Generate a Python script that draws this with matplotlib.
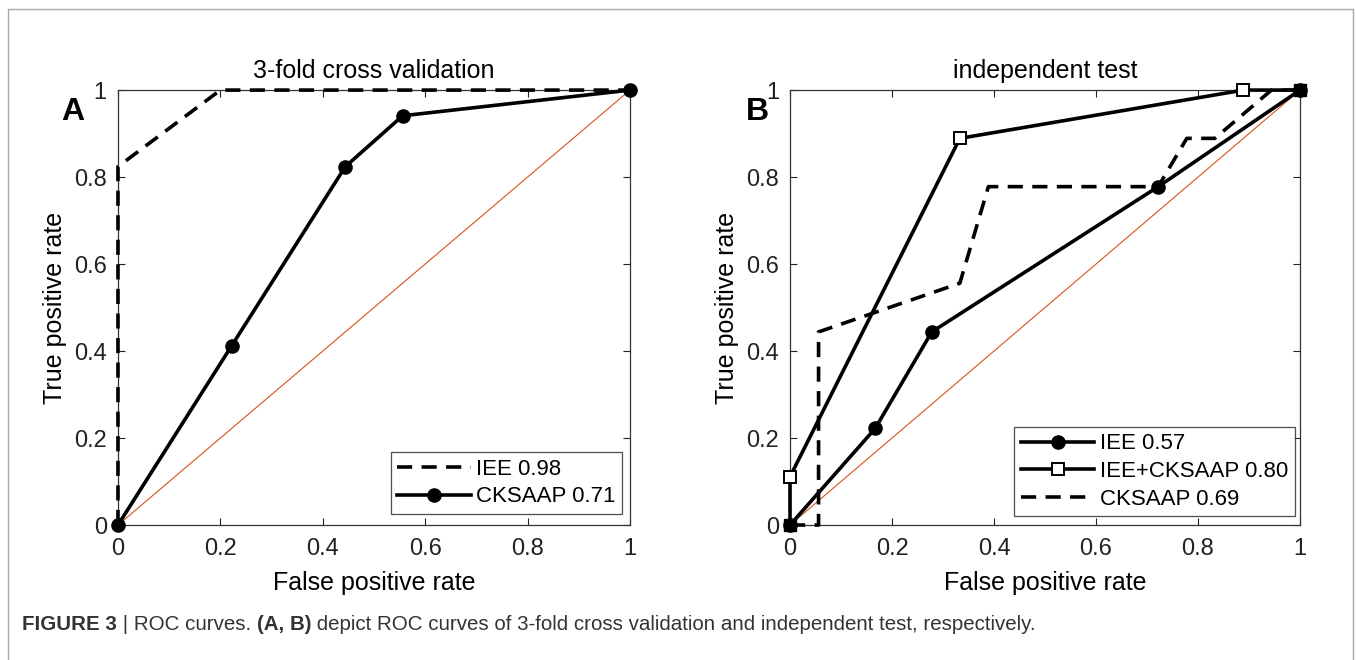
"""ROC curves — 3-fold cross validation (A) and independent test (B)"""

import matplotlib
matplotlib.use("Agg")
import matplotlib.pyplot as plt
from matplotlib.patches import Rectangle

plt.rcParams["font.family"] = ["Liberation Sans", "DejaVu Sans"]

# panel A: 3-fold cross validation
cv_iee_fpr = [0, 0, 0.2, 1]
cv_iee_tpr = [0, 0.824, 1, 1]
cv_ck_fpr = [0, 0.222, 0.444, 0.556, 1]
cv_ck_tpr = [0, 0.412, 0.824, 0.941, 1]

# panel B: independent test
it_iee_fpr = [0, 0.167, 0.278, 0.722, 1]
it_iee_tpr = [0, 0.222, 0.444, 0.778, 1]
it_comb_fpr = [0, 0, 0.333, 0.889, 1]
it_comb_tpr = [0, 0.111, 0.889, 1, 1]
it_ck_fpr = [0, 0.056, 0.056, 0.333, 0.389, 0.722, 0.778, 0.833, 0.944, 1]
it_ck_tpr = [0, 0, 0.444, 0.556, 0.778, 0.778, 0.889, 0.889, 1, 1]

legend_a = ["IEE 0.98", "CKSAAP 0.71"]
legend_b = ["IEE 0.57", "IEE+CKSAAP 0.80", "CKSAAP 0.69"]
ticks = [0, 0.2, 0.4, 0.6, 0.8, 1]
tick_labels = ["0", "0.2", "0.4", "0.6", "0.8", "1"]

LW = 2.6
DASH = (4.2, 2.6)
DIAG = "#D95319"


def style_axes(ax, title, letter, letter_x):
    ax.plot([0, 1], [0, 1], color=DIAG, lw=0.8, zorder=1)
    ax.set_xlim(0, 1)
    ax.set_ylim(0, 1)
    ax.set_xticks(ticks)
    ax.set_yticks(ticks)
    ax.set_xticklabels(tick_labels)
    ax.set_yticklabels(tick_labels)
    ax.tick_params(direction="in", length=5, width=0.8, labelsize=17,
                   top=True, right=True, colors="#222222")
    ax.tick_params(axis="x", pad=9)
    ax.tick_params(axis="y", pad=8)
    for s in ax.spines.values():
        s.set_linewidth(0.9)
        s.set_color("#333333")
    ax.set_xlabel("False positive rate", fontsize=18, labelpad=8)
    ax.set_ylabel("True positive rate", fontsize=18, labelpad=5)
    ax.set_title(title, fontsize=18, pad=9)
    ax.text(letter_x, 0.95, letter, transform=ax.transAxes, fontsize=23,
            fontweight="bold", ha="center", va="center")


fig = plt.figure(figsize=(13.56, 6.6), dpi=100)

# thin gray frame round the figure (bottom open)
fig.add_artist(Rectangle((8 / 1356, -0.05), 1345 / 1356, 1.05 - 9 / 660,
                         transform=fig.transFigure, fill=False,
                         edgecolor="#aaaaaa", lw=1.0))

ax_a = fig.add_axes([0.0870, 0.2045, 0.3776, 0.659])
ax_b = fig.add_axes([0.5826, 0.2045, 0.3761, 0.659])

# panel A
ax_a.plot(cv_iee_fpr, cv_iee_tpr, color="black", lw=LW, dashes=DASH,
          label=legend_a[0], zorder=3, clip_on=False)
ax_a.plot(cv_ck_fpr, cv_ck_tpr, color="black", lw=LW, marker="o", ms=9.5,
          label=legend_a[1], zorder=4, clip_on=False)
style_axes(ax_a, "3-fold cross validation", "A", -0.088)
leg = ax_a.legend(loc="lower right", fontsize=16, frameon=True, fancybox=False,
                  edgecolor="#222222", handlelength=3.3, borderpad=0.3,
                  labelspacing=0.3, handletextpad=0.25, borderaxespad=0,
                  bbox_to_anchor=(0.985, 0.025))
leg.get_frame().set_linewidth(0.9)

# panel B
ax_b.plot(it_iee_fpr, it_iee_tpr, color="black", lw=LW, marker="o", ms=9.5,
          label=legend_b[0], zorder=4, clip_on=False)
ax_b.plot(it_comb_fpr, it_comb_tpr, color="black", lw=LW, marker="s", ms=8,
          mfc="white", mec="black", mew=1.4, markevery=[1, 2, 3],
          label=legend_b[1], zorder=5, clip_on=False)
# end points of this curve show as solid squares
ax_b.plot(it_comb_fpr, it_comb_tpr, ls="none", marker="s", ms=9,
          color="black", markevery=[0, 4], zorder=6, clip_on=False)
ax_b.plot(it_ck_fpr, it_ck_tpr, color="black", lw=LW, dashes=DASH,
          label=legend_b[2], zorder=3, clip_on=False)
style_axes(ax_b, "independent test", "B", -0.063)
leg = ax_b.legend(loc="lower right", fontsize=16, frameon=True, fancybox=False,
                  edgecolor="#222222", handlelength=3.3, borderpad=0.3,
                  labelspacing=0.3, handletextpad=0.25, borderaxespad=0,
                  bbox_to_anchor=(0.99, 0.02))
leg.get_frame().set_linewidth(0.9)

# caption
cap_color = "#333333"
cap_y = 1 - 625 / 660
cap_size = 14.8
t1 = fig.text(22 / 1356, cap_y, "FIGURE 3", fontsize=cap_size,
              fontweight="bold", color=cap_color, va="center")
t2 = fig.text(0, cap_y, " | ROC curves. ", fontsize=cap_size, color=cap_color,
              va="center")
t3 = fig.text(0, cap_y, "(A, B)", fontsize=cap_size, fontweight="bold",
              color=cap_color, va="center")
t4 = fig.text(0, cap_y, " depict ROC curves of 3-fold cross validation and "
              "independent test, respectively.", fontsize=cap_size,
              color=cap_color, va="center")

fig.canvas.draw()
renderer = fig.canvas.get_renderer()
prev = t1
for t in (t2, t3, t4):
    bb = prev.get_window_extent(renderer)
    t.set_x(bb.x1 / fig.bbox.width)
    fig.canvas.draw()
    prev = t

fig.savefig("out.png", dpi=100)
plt.close(fig)
